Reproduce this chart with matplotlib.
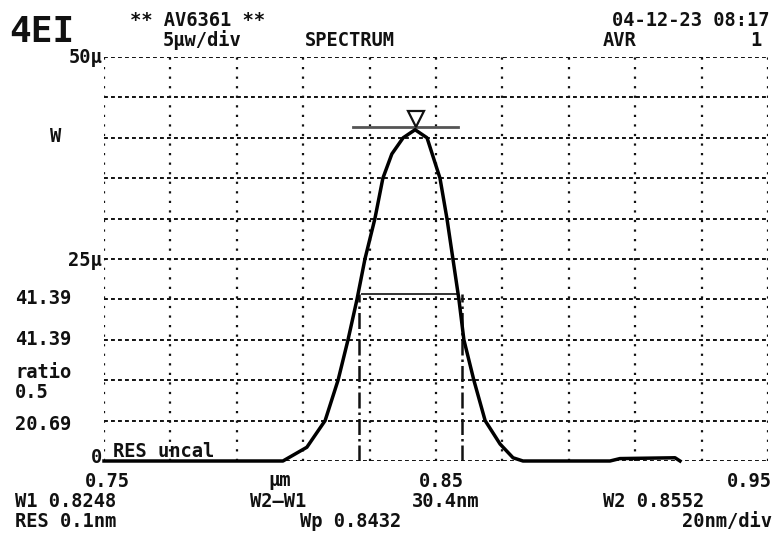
import matplotlib
matplotlib.use("Agg")
import matplotlib.pyplot as plt

# spectrum trace (wavelength in um, power in uW)
wavelength = [0.7500, 0.8039, 0.8111, 0.8166, 0.8205, 0.8235, 0.8262, 0.8286,
              0.8316, 0.8340, 0.8367, 0.8401, 0.8437, 0.8473, 0.8512, 0.8533,
              0.8551, 0.8569, 0.8584, 0.8614, 0.8648, 0.8693, 0.8732, 0.8762,
              0.9024, 0.9054, 0.9220, 0.9235]
power = [0, 0, 1.7, 5.0, 10.0, 15.0, 20.0, 25.0,
         30.0, 35.0, 38.0, 40.0, 41.0, 40.0, 35.0, 30.0,
         25.0, 20.0, 15.0, 10.0, 5.0, 2.1, 0.4, 0,
         0, 0.3, 0.4, 0]

# markers on the screen
peak_wl, peak_level = 0.8440, 42.3
peak_bar = [0.8250, 0.8566]
peak_bar_level = 41.3
half_level = 20.7
half_bar = [0.8277, 0.8566]
w1_line, w2_line = 0.8268, 0.8578

x_ticks = [0.75, 0.77, 0.79, 0.81, 0.83, 0.85, 0.87, 0.89, 0.91, 0.93, 0.95]
y_ticks = [0, 5, 10, 15, 20, 25, 30, 35, 40, 45, 50]

W, H = 780, 536
fig = plt.figure(figsize=(W / 100, H / 100), dpi=100)
ax = fig.add_axes([104 / W, (H - 461) / H, 664 / W, 404 / H])
ax.set_xlim(0.75, 0.95)
ax.set_ylim(0, 50)
ax.axis("off")

ink = "#111111"
# dotted graticule
ax.hlines(y_ticks, 0.75, 0.95, colors=ink, lw=1.4, linestyles=[(0, (2, 1.6))])
ax.vlines(x_ticks, 0, 50, colors=ink, lw=1.6, linestyles=[(0, (1, 3.3))])

# trace
ax.plot(wavelength, power, color="black", lw=2.5, solid_joinstyle="round",
        clip_on=False, zorder=5)

# peak marker and bars
ax.plot(peak_bar, [peak_bar_level] * 2, color="#555555", lw=2, zorder=4)
ax.plot([peak_wl], [peak_level], marker="v", ms=12, mfc="white", mec=ink,
        mew=1.6, zorder=6)
ax.plot(half_bar, [half_level] * 2, color="#333333", lw=1.4, zorder=4)
ax.vlines([w1_line, w2_line], 0, half_level, colors=ink, lw=1.8,
          linestyles="dashdot", zorder=4)

font = dict(family="DejaVu Sans Mono", fontweight="bold", fontsize=13.5,
            color=ink)


def put(x, y, s, ha="center", **kw):
    # x = anchor of the label, y = baseline, both in screen pixels
    opts = dict(font)
    opts.update(kw)
    fig.text(x / W, 1 - y / H, s, ha=ha, va="baseline", **opts)


# header
put(42, 42, "4EI", fontsize=26)
put(130, 26, "** AV6361 **", ha="left")
put(163, 46, "5\u00b5w/div", ha="left")
put(305, 46, "SPECTRUM", ha="left")
put(770, 26, "04-12-23 08:17", ha="right")
put(603, 46, "AVR", ha="left")
put(762, 46, "1", ha="right")

# left scale labels
put(102, 63, "50\u00b5", ha="right")
put(56, 142, "W")
put(102, 266, "25\u00b5", ha="right")
put(15, 304, "41.39", ha="left")
put(15, 345, "41.39", ha="left")
put(15, 378, "ratio", ha="left")
put(15, 398, "0.5", ha="left")
put(15, 430, "20.69", ha="left")
put(102, 463, "0", ha="right")
put(113, 457, "RES uncal", ha="left")

# bottom readouts
put(107, 487, "0.75")
put(268, 486, "\u00b5m", ha="left")
put(441, 487, "0.85")
put(772, 487, "0.95", ha="right")
put(15, 507, "W1 0.8248", ha="left")
put(250, 507, "W2\u2014W1", ha="left")
put(412, 507, "30.4nm", ha="left")
put(603, 507, "W2 0.8552", ha="left")
put(15, 527, "RES 0.1nm", ha="left")
put(300, 527, "Wp 0.8432", ha="left")
put(772, 527, "20nm/div", ha="right")

fig.savefig("out.png", dpi=100, facecolor="white")
